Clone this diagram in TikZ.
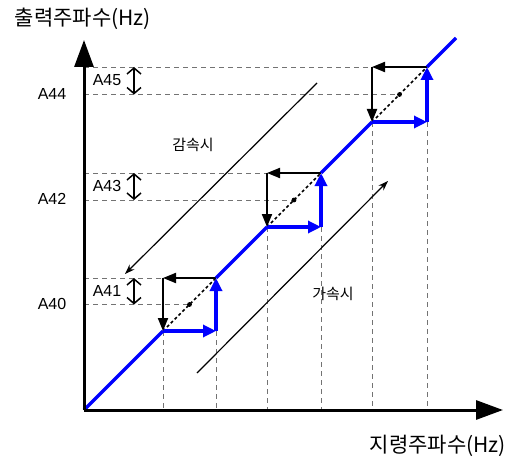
\documentclass[tikz,border=0pt]{standalone}
\usepackage{fontspec}
\setmainfont{Liberation Sans}
\newfontfamily\kofont{Noto Sans CJK KR}
\usetikzlibrary{arrows.meta,calc}
\definecolor{riseblue}{RGB}{0,0,255}

\begin{document}
\begin{tikzpicture}[x=1pt,y=-1pt,
  axis/.style={line width=3pt, -{Triangle[length=27pt,width=19pt]}},
  guide/.style={draw=black!55, line width=0.9pt, dash pattern=on 5pt off 4pt},
  rise/.style={draw=riseblue, line width=3.2pt},
  climb/.style={rise, -{Triangle[length=13pt,width=12pt]}},
  back/.style={line width=2pt, -{Triangle[length=13pt,width=10pt]}},
  level/.style={line width=1.5pt, {Straight Barb[length=6pt,width=14pt]}-{Straight Barb[length=6pt,width=14pt]}},
  trend/.style={line width=1.2pt, -{Stealth[length=10pt,width=7pt]}},
  lbl/.style={font=\fontsize{16}{16}\selectfont},
  kolbl/.style={font=\kofont\fontsize{#1}{#1}\selectfont}
]
  \useasboundingbox (0,0) rectangle (512,460);

  % points of the staircase
  \coordinate (O)   at (84,410);
  \coordinate (yt)  at (84,40);
  \coordinate (xt)  at (503,410);
  \coordinate (lvl) at (134,0);
  \coordinate (s1a) at (163,331); \coordinate (s1b) at (216,331);
  \coordinate (s1c) at (216,278); \coordinate (s1d) at (163,278);
  \coordinate (s1m) at (189.5,304.5);
  \coordinate (s2a) at (267,227); \coordinate (s2b) at (321,227);
  \coordinate (s2c) at (321,173); \coordinate (s2d) at (267,173);
  \coordinate (s2m) at (294,200);
  \coordinate (s3a) at (372,122); \coordinate (s3b) at (427,122);
  \coordinate (s3c) at (427,67);  \coordinate (s3d) at (372,67);
  \coordinate (s3m) at (399.5,94.5);
  \coordinate (top) at (456,38);
  \coordinate (dec1) at (317,83);  \coordinate (dec2) at (125,274);
  \coordinate (acc1) at (197,373); \coordinate (acc2) at (388,181);

  % guides, levels and labels
  \foreach \i/\lo/\df in {1/40/41, 2/42/43, 3/44/45} {
    \draw[guide] (s\i d -| O) -- (s\i d);
    \draw[guide] (s\i m -| O) -- (s\i m);
    \draw[guide] (s\i a) -- (s\i a |- O);
    \draw[guide] (s\i b) -- (s\i b |- O);
    \draw[level] (s\i d -| lvl) -- (s\i m -| lvl);
    \node[lbl] (a\lo) at ($(s\i m -| O)+(-32,-1)$) {A\lo};
    \node[lbl] (a\df) at ($(s\i d -| O)+(23,13)$) {A\df};
    \draw[line width=1.5pt, dash pattern=on 3pt off 2.5pt] (s\i a) -- (s\i c);
    \fill (s\i m) circle (2.4pt);
    \draw[climb] (s\i a) -- (s\i b);
    \draw[climb] (s\i b) -- (s\i c);
    \draw[back] (s\i c) -- (s\i d);
    \draw[back] (s\i d) -- (s\i a);
  }

  \draw[rise] (O) -- (s1a);
  \draw[rise] (s1c) -- (s2a);
  \draw[rise] (s2c) -- (s3a);
  \draw[rise] (s3c) -- (top);

  \draw[trend] (dec1) -- (dec2);
  \draw[trend] (acc1) -- (acc2);
  \node[kolbl=15] (dec) at (193,145) {감속시};
  \node[kolbl=15] (acc) at (333,294) {가속시};

  \draw[axis] (O) -- (yt);
  \draw[axis] (O) -- (xt);
  \node[kolbl=21] (ylab) at (83,19)  {출력주파수(Hz)};
  \node[kolbl=21] (xlab) at (438,446) {지령주파수(Hz)};
\end{tikzpicture}
\end{document}
